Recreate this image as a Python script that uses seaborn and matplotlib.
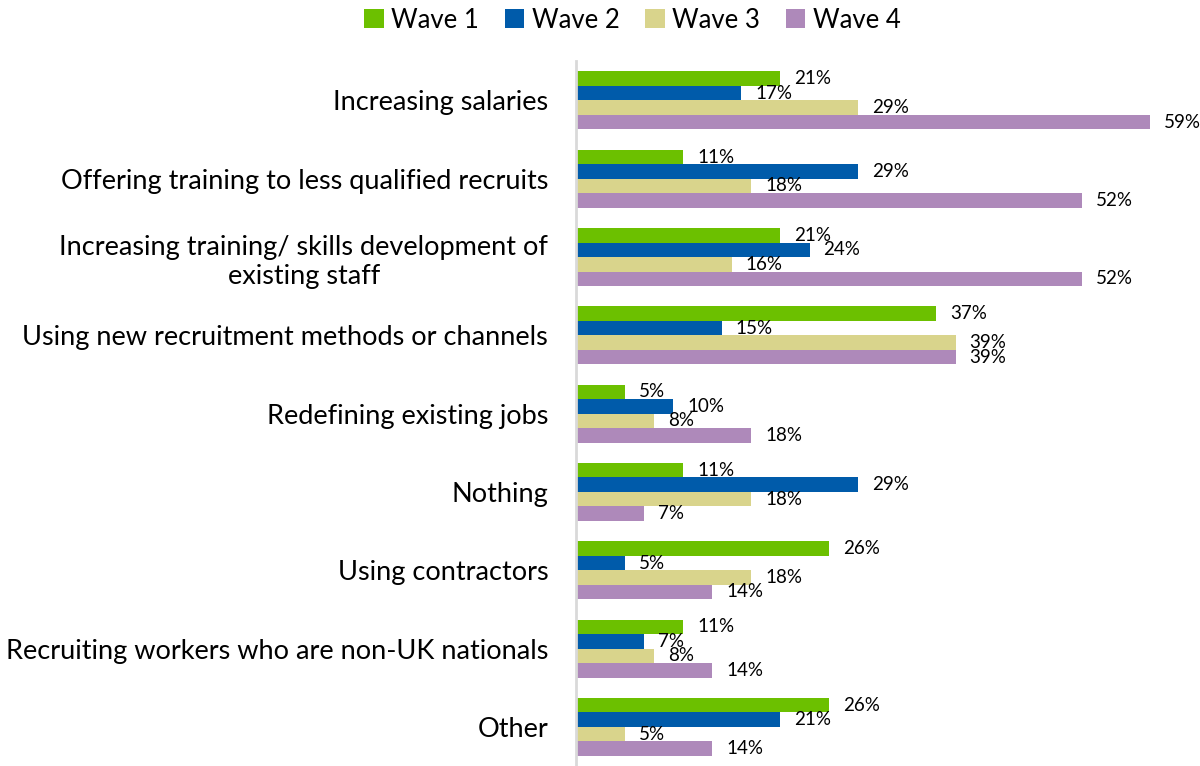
import matplotlib
matplotlib.use("Agg")
import matplotlib.pyplot as plt
import seaborn as sns
import pandas as pd
from matplotlib.patches import Patch

categories = [
    "Increasing salaries",
    "Offering training to less qualified recruits",
    "Increasing training/ skills development of\nexisting staff",
    "Using new recruitment methods or channels",
    "Redefining existing jobs",
    "Nothing",
    "Using contractors",
    "Recruiting workers who are non-UK nationals",
    "Other",
]
waves = ["Wave 1", "Wave 2", "Wave 3", "Wave 4"]
wave1 = [21, 11, 21, 37, 5, 11, 26, 11, 26]
wave2 = [17, 29, 24, 15, 10, 29, 5, 7, 21]
wave3 = [29, 18, 16, 39, 8, 18, 18, 8, 5]
wave4 = [59, 52, 52, 39, 18, 7, 14, 14, 14]
colors = ["#6CC000", "#005BAA", "#D9D48C", "#AE89BA"]

rows = []
for w, vals in zip(waves, [wave1, wave2, wave3, wave4]):
    for c, v in zip(categories, vals):
        rows.append({"category": c, "wave": w, "value": v})
df = pd.DataFrame(rows)

sns.set_theme(style="white")
plt.rcParams["font.family"] = ["Lato", "DejaVu Sans"]
plt.rcParams["text.color"] = "black"
plt.rcParams["ytick.color"] = "black"

fig = plt.figure(figsize=(12, 7.66), dpi=100)
ax = fig.add_axes([0.48, 0.0, 0.52, 0.92])
sns.barplot(data=df, y="category", x="value", hue="wave", order=categories,
            hue_order=waves, palette=colors, orient="h", width=0.74,
            saturation=1, ax=ax, legend=False, errorbar=None, linewidth=0)

for cont in ax.containers:
    ax.bar_label(cont, fmt="%d%%", padding=10, fontsize=13.5, color="black")

ax.set_xlim(0, 64.1)
ax.set_ylim(8.5, -0.5)
ax.set_xlabel("")
ax.set_ylabel("")
ax.set_xticks([])
for s in ["top", "right", "bottom"]:
    ax.spines[s].set_visible(False)
ax.spines["left"].set_color("#D9D9D9")
ax.spines["left"].set_linewidth(2)
ax.tick_params(axis="y", length=0, pad=20, labelsize=19.5, labelcolor="black")
for t in ax.get_yticklabels():
    t.set_multialignment("center")

handles = [Patch(facecolor=c, edgecolor="none") for c in colors]
fig.legend(handles, waves, loc="upper center", bbox_to_anchor=(0.527, 1.02),
           ncol=4, frameon=False, fontsize=18.5, handlelength=0.75,
           handleheight=0.75, handletextpad=0.3, columnspacing=1.0,
           labelcolor="black")

fig.savefig("out.png", dpi=100)
